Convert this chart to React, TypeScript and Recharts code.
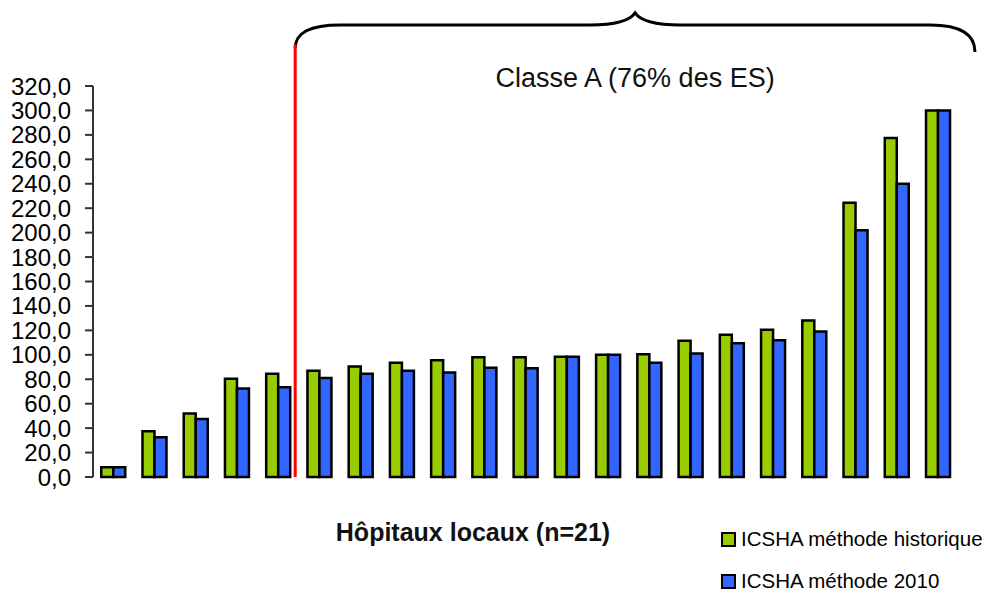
import { BarChart, Bar, XAxis, YAxis, ReferenceLine, ReferenceArea, Legend } from 'recharts';

// hôpitaux locaux, classés par ICSHA croissant
const hospitals = ['1', '2', '3', '4', '5', '6', '7', '8', '9', '10', '11', '12', '13', '14', '15', '16', '17', '18', '19', '20', '21'];
const historique = [8, 37.5, 52, 80.5, 84.5, 87, 90.5, 93.5, 95.5, 98, 98, 98.5, 100, 100.5, 111.5, 116.5, 120.5, 128, 224.5, 277.5, 300];
const methode2010 = [8, 32.5, 47.5, 72.5, 73.5, 81, 84.5, 87, 85.5, 89.5, 89, 98.5, 100, 93.5, 101, 109.5, 112, 119, 202, 240, 300];
const yTicks = [0, 20, 40, 60, 80, 100, 120, 140, 160, 180, 200, 220, 240, 260, 280, 300, 320];
const seriesNames = ['ICSHA méthode historique', 'ICSHA méthode 2010'];
const seriesColors = ['#99cc00', '#3366ff'];
const lastOutside = '5';
const classeFirst = '6';
const classeLast = '21';
const classeLabel = 'Classe A (76% des ES)';
const xTitle = 'Hôpitaux locaux (n=21)';

const data = hospitals.map((name, i) => ({ name, historique: historique[i], methode2010: methode2010[i] }));

const font = '"Liberation Sans", Arial, sans-serif';

function Brace(props: any) {
  const { x, y, width, height } = props;
  const x0 = x - 4;
  const x1 = x + width + 16;
  const xm = (x0 + x1) / 2;
  const yb = y + height;
  const d = `M ${x0} ${yb} Q ${x0} ${y} ${x0 + 45} ${y} L ${xm - 45} ${y} Q ${xm - 8} ${y} ${xm} ${y - 12} Q ${xm + 8} ${y} ${xm + 45} ${y} L ${x1 - 45} ${y} Q ${x1} ${y} ${x1} ${yb + 4}`;
  return (
    <g>
      <path d={d} fill="none" stroke="#000" strokeWidth={3} />
      <text x={xm} y={y + 62} textAnchor="middle" fontSize={27} fill="#111" fontFamily={font}>
        {classeLabel}
      </text>
    </g>
  );
}

function RedLine(props: any) {
  const { x1, y1, x2, y2 } = props;
  return <line x1={x1 - 4} y1={y1} x2={x2 - 4} y2={y2} stroke="#ff0000" strokeWidth={3} />;
}

function LegendBox() {
  return (
    <div style={{ fontFamily: font, fontSize: 20.5, lineHeight: '22px', color: '#000' }}>
      {seriesNames.map((n, i) => (
        <div key={n} style={{ display: 'flex', alignItems: 'center', height: 22, marginBottom: i === 0 ? 20 : 0 }}>
          <span style={{ display: 'inline-block', width: 11, height: 11, background: seriesColors[i], border: '2px solid #000', marginRight: 5 }} />
          {n}
        </div>
      ))}
    </div>
  );
}

export default function App() {
  return (
    <div style={{ position: 'absolute', left: 0, top: 0, background: '#fff' }}>
      <BarChart
        width={985}
        height={593}
        data={data}
        margin={{ top: 86, right: 26, bottom: 0, left: 0 }}
        barCategoryGap="20%"
        barGap={0}
      >
        <XAxis
          dataKey="name"
          height={116}
          axisLine={false}
          tickLine={false}
          tick={false}
          label={{
            content: (p: any) => (
              <text
                x={p.viewBox.x + p.viewBox.width / 2 - 53}
                y={p.viewBox.y + 64}
                textAnchor="middle"
                fontSize={25}
                fontWeight="bold"
                fill="#111"
                fontFamily={font}
              >
                {xTitle}
              </text>
            ),
          }}
        />
        <YAxis
          width={93}
          domain={[0, 320]}
          ticks={yTicks}
          interval={0}
          tickSize={8}
          tickMargin={14}
          axisLine={{ stroke: '#333', strokeWidth: 2 }}
          tickLine={{ stroke: '#333', strokeWidth: 2 }}
          tick={{ fontSize: 24, fill: '#000', fontFamily: font }}
          tickFormatter={(v: number) => v.toFixed(1).replace('.', ',')}
        />
        <Legend
          layout="horizontal"
          align="center"
          verticalAlign="middle"
          wrapperStyle={{ left: 721, top: 528, width: 'auto' }}
          content={() => <LegendBox />}
        />
        <Bar dataKey="historique" name={seriesNames[0]} fill={seriesColors[0]} stroke="#000" strokeWidth={2.5} isAnimationActive={false} />
        <Bar dataKey="methode2010" name={seriesNames[1]} fill={seriesColors[1]} stroke="#000" strokeWidth={2.5} isAnimationActive={false} />
        <ReferenceLine
          segment={[{ x: lastOutside, y: 0 }, { x: lastOutside, y: 354 }]}
          position="end"
          ifOverflow="visible"
          shape={(p: any) => <RedLine {...p} />}
        />
        <ReferenceArea
          x1={classeFirst}
          x2={classeLast}
          y1={351}
          y2={370}
          ifOverflow="visible"
          shape={(p: any) => <Brace {...p} />}
        />
      </BarChart>
    </div>
  );
}
